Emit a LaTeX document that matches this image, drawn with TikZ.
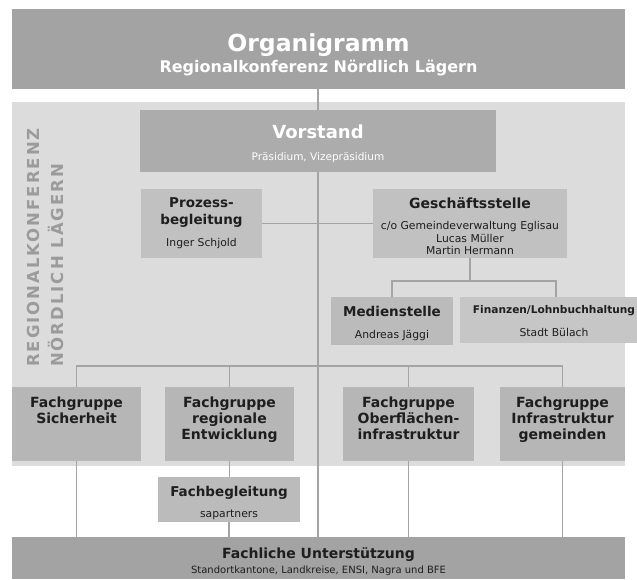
\documentclass[tikz,border=0pt]{standalone}
\usepackage{fontspec}
\setmainfont{DejaVu Sans}
\newfontfamily\spacedfont[LetterSpace=12]{DejaVu Sans}
\usetikzlibrary{backgrounds}
\definecolor{headgray}{HTML}{A3A3A3}
\definecolor{panelgray}{HTML}{DCDCDC}
\definecolor{vorgray}{HTML}{ACACAC}
\definecolor{lightbox}{HTML}{C1C1C1}
\definecolor{fggray}{HTML}{B6B6B6}
\definecolor{medgray}{HTML}{BBBBBB}
\definecolor{fingray}{HTML}{C6C6C6}
\definecolor{linegray}{HTML}{A4A4A4}
\definecolor{darktext}{HTML}{1E1E1E}
\definecolor{vertgray}{HTML}{9B9B9B}
\newcommand{\mkbox}[6]{\node[boxshape, fill=#6, minimum width={(#4)-(#2)}, minimum height={(#5)-(#3)}] (#1) at (#2,#3) {};}
\begin{document}
\begin{tikzpicture}[x=1pt, y=-1pt,
  boxshape/.style={rectangle, inner sep=0pt, outer sep=0pt, anchor=north west, draw=none},
  conn/.style={draw=linegray, line width=1.6pt},
  tw/.style={text=white, inner sep=0pt, anchor=base, align=center},
  td/.style={text=darktext, inner sep=0pt, anchor=base, align=center},
  vt/.style={text=vertgray, inner sep=0pt, rotate=90, anchor=base west, font=\spacedfont\fontsize{16.5}{18}\selectfont\bfseries},
  bigb/.style={font=\fontsize{14}{16}\selectfont\bfseries},
  midb/.style={font=\fontsize{13.5}{16.3}\selectfont\bfseries},
  small/.style={font=\fontsize{10.8}{12.4}\selectfont}]
\useasboundingbox (0,0) rectangle (637,579);
% boxes
\mkbox{head}{12}{9}{625}{89}{headgray}
\mkbox{vor}{140}{110}{496}{172}{vorgray}
\mkbox{pb}{141}{189}{262}{258}{lightbox}
\mkbox{gs}{373}{189}{567}{258}{lightbox}
\mkbox{ms}{331}{297}{453}{345}{medgray}
\mkbox{fi}{460}{297}{637}{343}{fingray}
\mkbox{fg1}{12}{387}{141}{461}{fggray}
\mkbox{fg2}{165}{387}{294}{461}{fggray}
\mkbox{fg3}{343}{387}{474}{461}{fggray}
\mkbox{fg4}{500}{387}{625}{461}{fggray}
\mkbox{fb}{158}{477}{300}{522}{medgray}
\mkbox{bot}{12}{537}{625}{579}{headgray}
% panel and connectors behind
\begin{scope}[on background layer]
  \fill[panelgray] (12,102) rectangle (625,466);
  \coordinate (gsj) at (470,281);
  \coordinate (fij) at (556,281);
  \coordinate (fgl) at (0,366);
  \draw[conn] (vor.north |- head.south) -- (vor.north);
  \draw[conn] (vor.south) -- (vor.south |- bot.north);
  \draw[conn] (pb.east) -- (gs.west);
  \draw[conn] (gs.south) -- (gs.south |- gsj);
  \draw[conn] (ms.north) -- (ms.north |- gsj) -- (fij) -- (fij |- fi.north);
  \draw[conn] (fg1.north) -- (fg1.north |- fgl) -- (fg4.north |- fgl) -- (fg4.north);
  \draw[conn] (fg2.north) -- (fg2.north |- fgl);
  \draw[conn] (fg3.north) -- (fg3.north |- fgl);
  \draw[conn] (fg1.south) -- (fg1.south |- bot.north);
  \draw[conn] (fg2.south) -- (fg2.south |- fb.north);
  \draw[conn] (fb.south) -- (fb.south |- bot.north);
  \draw[conn] (fg3.south) -- (fg3.south |- bot.north);
  \draw[conn] (fg4.south) -- (fg4.south |- bot.north);
\end{scope}
% texts (multi-line nodes are placed by the baseline of their last line)
\node[tw, font=\fontsize{23.5}{26}\selectfont\bfseries] (thead) at (318.5,51) {Organigramm};
\node[tw, font=\fontsize{16}{18}\selectfont\bfseries] (thead2) at (318.5,72) {Regionalkonferenz Nördlich Lägern};
\node[tw, font=\fontsize{18}{20}\selectfont\bfseries] (tvor) at (318,138) {Vorstand};
\node[tw, font=\fontsize{10.5}{12}\selectfont] (tvor2) at (318,160) {Präsidium, Vizepräsidium};
\node[td, midb] (tpb) at (201.5,224) {Prozess-\\begleitung};
\node[td, small] (tpb2) at (201.5,246.7) {Inger Schjold};
\node[td, bigb] (tgs) at (470,208) {Geschäftsstelle};
\node[td, small] (tgs2) at (470,254.7) {c/o Gemeindeverwaltung Eglisau\\Lucas Müller\\Martin Hermann};
\node[td, midb] (tms) at (392,316.7) {Medienstelle};
\node[td, small] (tms2) at (392,338) {Andreas Jäggi};
\node[td, font=\fontsize{10.6}{12}\selectfont\bfseries] (tfi) at (554,313) {Finanzen/Lohnbuchhaltung};
\node[td, small] (tfi2) at (554,336.7) {Stadt Bülach};
\node[td, bigb] (tfg1) at (76.5,423.3) {Fachgruppe\\Sicherheit};
\node[td, bigb] (tfg2) at (229.5,439.3) {Fachgruppe\\regionale\\Entwicklung};
\node[td, bigb] (tfg3) at (408.5,439.3) {Fachgruppe\\Oberflächen-\\infrastruktur};
\node[td, bigb] (tfg4) at (562.5,439.3) {Fachgruppe\\Infrastruktur\\gemeinden};
\node[td, midb] (tfb) at (229,496.7) {Fachbegleitung};
\node[td, small] (tfb2) at (229,517.7) {sapartners};
\node[td, bigb] (tbot) at (318.5,558.3) {Fachliche Unterstützung};
\node[td, font=\fontsize{10}{12}\selectfont] (tbot2) at (318.5,573.3) {Standortkantone, Landkreise, ENSI, Nagra und BFE};
\node[vt] (v1) at (39,367) {REGIONALKONFERENZ};
\node[vt] (v2) at (63,367) {NÖRDLICH LÄGERN};
\end{tikzpicture}
\end{document}
